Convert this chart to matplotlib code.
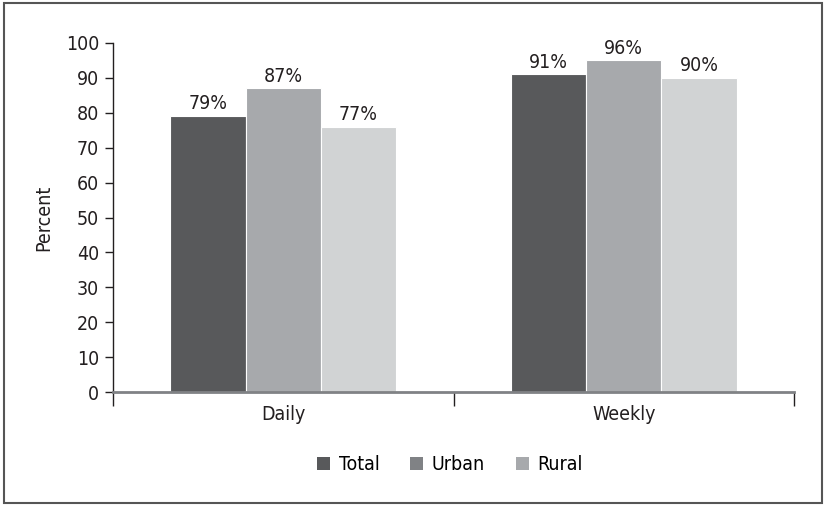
import matplotlib
matplotlib.use("Agg")
import matplotlib.pyplot as plt
from matplotlib.patches import Rectangle, Patch
import numpy as np

plt.rcParams['font.family'] = ['DejaVu Sans Condensed', 'DejaVu Sans']
plt.rcParams['font.stretch'] = 'condensed'

categories = ["Daily", "Weekly"]
series = ["Total", "Urban", "Rural"]
total = [79, 91]
urban = [87, 95]
rural = [76, 90]
total_labels = ["79%", "91%"]
urban_labels = ["87%", "96%"]
rural_labels = ["77%", "90%"]
yticks = [0, 10, 20, 30, 40, 50, 60, 70, 80, 90, 100]

bar_colors = ["#58595b", "#a7a9ac", "#d1d3d4"]
legend_colors = ["#58595b", "#808285", "#a7a9ac"]

fig = plt.figure(figsize=(8.25, 5.07), dpi=100)
ax = fig.add_axes([113/825, 1-392/507, 681/825, 349/507])

x = np.arange(len(categories))
w = 0.221
data = [total, urban, rural]
labels = [total_labels, urban_labels, rural_labels]
for i, (vals, labs) in enumerate(zip(data, labels)):
    xs = x + (i - 1) * w
    ax.bar(xs, vals, width=w, color=bar_colors[i], edgecolor="white", linewidth=0.8)
    for xi, v, lab in zip(xs, vals, labs):
        ax.text(xi, v + 0.8, lab, ha="center", va="bottom", fontsize=14, color="#231f20")

ax.set_xlim(-0.5, 1.5)
ax.set_ylim(0, 100)
ax.set_yticks(yticks)
ax.set_yticklabels([str(t) for t in yticks], fontsize=14, color="#231f20")
ax.set_xticks(x)
ax.set_xticklabels(categories, fontsize=14, color="#231f20")
ax.tick_params(axis="x", which="major", length=0, pad=9)
ax.set_xticks([-0.5, 0.5, 1.5], minor=True)
ax.tick_params(axis="x", which="minor", length=10, width=1, color="#231f20", direction="out")
ax.tick_params(axis="y", length=6, width=1, color="#231f20", pad=4)
ax.set_ylabel("Percent", fontsize=14, color="#231f20", labelpad=9)

for s in ["top", "right"]:
    ax.spines[s].set_visible(False)
ax.spines["left"].set_color("#231f20")
ax.spines["left"].set_linewidth(1)
ax.spines["bottom"].set_color("#808285")
ax.spines["bottom"].set_linewidth(2)

handles = [Patch(facecolor=c, edgecolor="none") for c in legend_colors]
fig.legend(handles, series, loc="center", bbox_to_anchor=(450/825, 1-465/507), ncol=3,
           frameon=False, fontsize=14, handlelength=0.65, handleheight=0.65,
           columnspacing=1.6, handletextpad=0.45)

fig.patches.append(Rectangle((4/825, 4/507), 818/825, 500/507, transform=fig.transFigure,
                             fill=False, edgecolor="#555555", linewidth=1.5))

fig.savefig("out.png", dpi=100)
